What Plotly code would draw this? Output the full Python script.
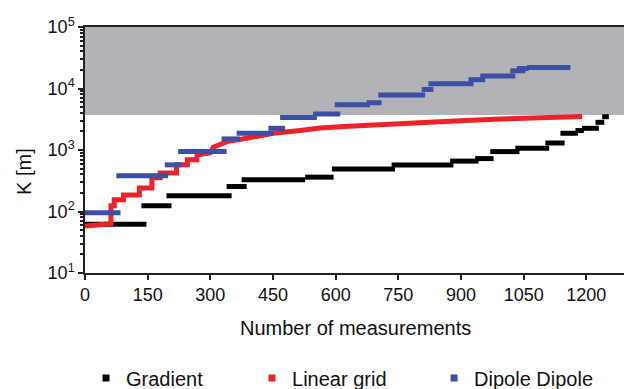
import plotly.graph_objects as go

# ---------------- data ----------------
# Gradient: horizontal steps (start index, end index, K value)
grad_start = [0, 135, 195, 339, 375, 527, 591, 734, 874, 934, 970, 1030, 1102, 1138, 1174, 1190, 1222, 1238]
grad_end   = [147, 207, 351, 387, 527, 595, 742, 882, 942, 978, 1040, 1111, 1148, 1180, 1194, 1230, 1243, 1254]
grad_k     = [62, 124, 180, 255, 327, 362, 489, 572, 660, 725, 942, 1070, 1300, 1871, 2070, 2253, 2820, 3475]

# Linear grid: staircase-like curve (measurement index, K value)
lin_n = [0, 30, 62, 62, 70, 70, 92, 92, 130, 130, 160, 160, 180, 180, 219, 219, 245, 245, 268, 268,
         300, 307, 340, 387, 420, 451, 515, 562, 620, 675, 738, 833, 898, 994, 1100, 1190]
lin_k = [58, 60, 63, 124, 124, 155, 155, 186, 186, 240, 240, 355, 355, 421, 421, 573, 573, 692, 692, 830,
         900, 1110, 1368, 1550, 1700, 1871, 2080, 2280, 2420, 2540, 2716, 2884, 3000, 3190, 3330, 3500]

# Dipole Dipole: horizontal steps
dip_start = [0, 75, 191, 223, 327, 363, 439, 467, 546, 598, 674, 702, 806, 822, 918, 946, 1018, 1034, 1058]
dip_end   = [85, 199, 231, 339, 371, 451, 479, 555, 611, 682, 710, 814, 834, 930, 958, 1030, 1054, 1062, 1162]
dip_k     = [95, 380, 573, 942, 1515, 1871, 2253, 3380, 3850, 5450, 5870, 7810, 9660, 11900, 13900, 15900,
             19400, 21170, 22000]

band_low = 3700      # lower edge of the grey zone
band_high = 1e5
x_ticks = [0, 150, 300, 450, 600, 750, 900, 1050, 1200]
y_exponents = [1, 2, 3, 4, 5]
names = ["Gradient", "Linear grid", "Dipole Dipole"]
colors = ["#000000", "#ee2228", "#3b4fa4"]


def segments(starts, ends, vals):
    xs, ys = [], []
    for s, e, v in zip(starts, ends, vals):
        xs += [s, e, None]
        ys += [v, v, None]
    return xs, ys


FONT = "Liberation Sans, Arial, sans-serif"
fig = go.Figure()

gx, gy = segments(grad_start, grad_end, grad_k)
dx, dy = segments(dip_start, dip_end, dip_k)

fig.add_trace(go.Scatter(x=gx, y=gy, mode="lines", line=dict(color=colors[0], width=5),
                         showlegend=False, connectgaps=False))
fig.add_trace(go.Scatter(x=lin_n, y=lin_k, mode="lines", line=dict(color=colors[1], width=5),
                         showlegend=False))
fig.add_trace(go.Scatter(x=dx, y=dy, mode="lines", line=dict(color=colors[2], width=5),
                         showlegend=False, connectgaps=False))

# legend entries (square markers)
legend_ids = ["legend", "legend2", "legend3"]
for nm, c, lg in zip(names, colors, legend_ids):
    fig.add_trace(go.Scatter(x=[None], y=[None], mode="markers", name=nm,
                             marker=dict(symbol="square", size=7, color=c),
                             showlegend=True, legend=lg))

fig.add_shape(type="rect", xref="paper", x0=0, x1=1, yref="y", y0=band_low, y1=band_high,
              fillcolor="#b3b3b7", line=dict(width=0), layer="below")

minor_vals = [m * 10 ** e for e in range(1, 5) for m in range(2, 10)]

leg_common = dict(orientation="h", yanchor="middle", y=-0.427, xanchor="left",
                  font=dict(family=FONT, size=20, color="#111"), bgcolor="rgba(0,0,0,0)")

# the page body adds an 8 px offset, so the figure is 8 px smaller than the window
fig.update_layout(
    width=624, height=381,
    margin=dict(l=77, r=6, t=19, b=116, autoexpand=False),
    paper_bgcolor="white", plot_bgcolor="white",
    font=dict(family=FONT, size=18, color="#111"),
    xaxis=dict(range=[0, 1295], tickvals=x_ticks, ticks="outside", ticklen=5, tickwidth=1.5,
               tickcolor="#222", showline=True, linecolor="#222", linewidth=1.5, mirror=True,
               showgrid=False, zeroline=False, tickfont=dict(size=18), automargin=False),
    yaxis=dict(type="log", range=[1, 5], tickvals=[10 ** e for e in y_exponents],
               ticktext=["10<sup>%d</sup>" % e for e in y_exponents],
               ticks="outside", ticklen=5, tickwidth=1.5, tickcolor="#222",
               minor=dict(tickvals=minor_vals, ticks="outside", ticklen=3, tickcolor="#222"),
               showline=True, linecolor="#222", linewidth=1.5, mirror=True,
               showgrid=False, zeroline=False, tickfont=dict(size=18), automargin=False),
    legend=dict(x=0.0019, **leg_common),
    legend2=dict(x=0.3087, **leg_common),
    legend3=dict(x=0.6452, **leg_common),
    annotations=[
        dict(text="Number of measurements", xref="paper", yref="paper", x=0.5, y=-0.2236,
             xanchor="center", yanchor="middle", showarrow=False, font=dict(size=20)),
        dict(text="K [m]", xref="paper", yref="paper", x=-0.1128, y=0.4146, textangle=-90,
             xanchor="center", yanchor="middle", showarrow=False, font=dict(size=20)),
    ],
)

fig.write_html("out.html")
